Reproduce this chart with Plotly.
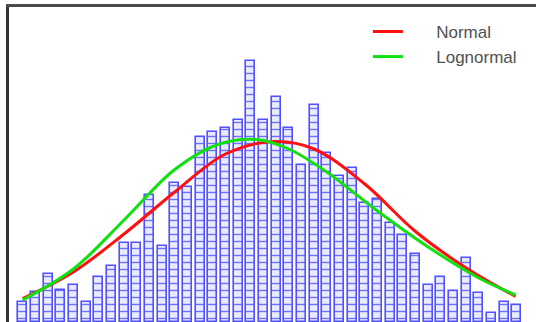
import plotly.graph_objects as go

# Histogram bins (bin index) and heights
bin_index = list(range(40))
bin_height = [20.3, 30.3, 48, 32, 37, 20.3, 45, 56, 79, 79,
              127, 76.3, 139.3, 135.3, 185.3, 190.3, 193.7, 202, 261.3, 202,
              224.7, 193.7, 157, 217, 169.3, 146, 153.7, 119.3, 122.7, 98.7,
              87, 68, 37, 44.7, 31.3, 63.7, 28.7, 8.7, 20.3, 17]

# Fitted curves
normal_x = [0, 4, 8, 12, 16, 19.9, 23, 27, 31, 35, 38.9]
normal_y = [23.5, 50, 88, 130, 168, 180.5, 173, 138, 90.5, 54, 25.5]

lognormal_x = [0, 4, 8, 12, 15.5, 18.5, 21, 24, 28, 32, 36, 38.9]
lognormal_y = [22, 53, 102, 152.5, 178, 182.5, 173, 150, 111, 75, 44, 27]

pad = "\u00a0" * 6

fig = go.Figure()
fig.add_trace(go.Bar(
    x=bin_index, y=bin_height, width=0.71, showlegend=False,
    marker=dict(
        color="#e8e8ff",
        line=dict(color="#5050ff", width=1.6),
        pattern=dict(shape="-", size=7, solidity=0.2,
                     fgcolor="#7070ff", bgcolor="#eaeaff", fillmode="replace"),
    ),
))
fig.add_trace(go.Scatter(
    x=normal_x, y=normal_y, mode="lines", name=pad + "Normal",
    line=dict(color="#ff1010", width=3, shape="spline"),
))
fig.add_trace(go.Scatter(
    x=lognormal_x, y=lognormal_y, mode="lines", name=pad + "Lognormal",
    line=dict(color="#10e010", width=3, shape="spline"),
))

fig.update_layout(
    width=536, height=322,
    margin=dict(l=9, r=0, t=7, b=0),
    paper_bgcolor="white", plot_bgcolor="white",
    bargap=0,
    font=dict(family="Liberation Sans, Arial, sans-serif", size=17, color="#505050"),
    legend=dict(x=0.681, y=0.978, xanchor="left", yanchor="top",
                bgcolor="rgba(0,0,0,0)", tracegroupgap=0),
    xaxis=dict(range=[-1.08, 40.51], side="top", showline=True, linewidth=2.5,
               linecolor="#4a4a4a", showgrid=False, zeroline=False,
               showticklabels=False, ticks="", layer="above traces"),
    yaxis=dict(range=[0, 315], showline=True, linewidth=3, linecolor="#333333",
               showgrid=False, zeroline=False, showticklabels=False, ticks=""),
)

fig.write_html(
    "out.html",
    config={"displayModeBar": False},
    post_script="document.body.style.margin='0';document.body.style.overflow='hidden';",
)
